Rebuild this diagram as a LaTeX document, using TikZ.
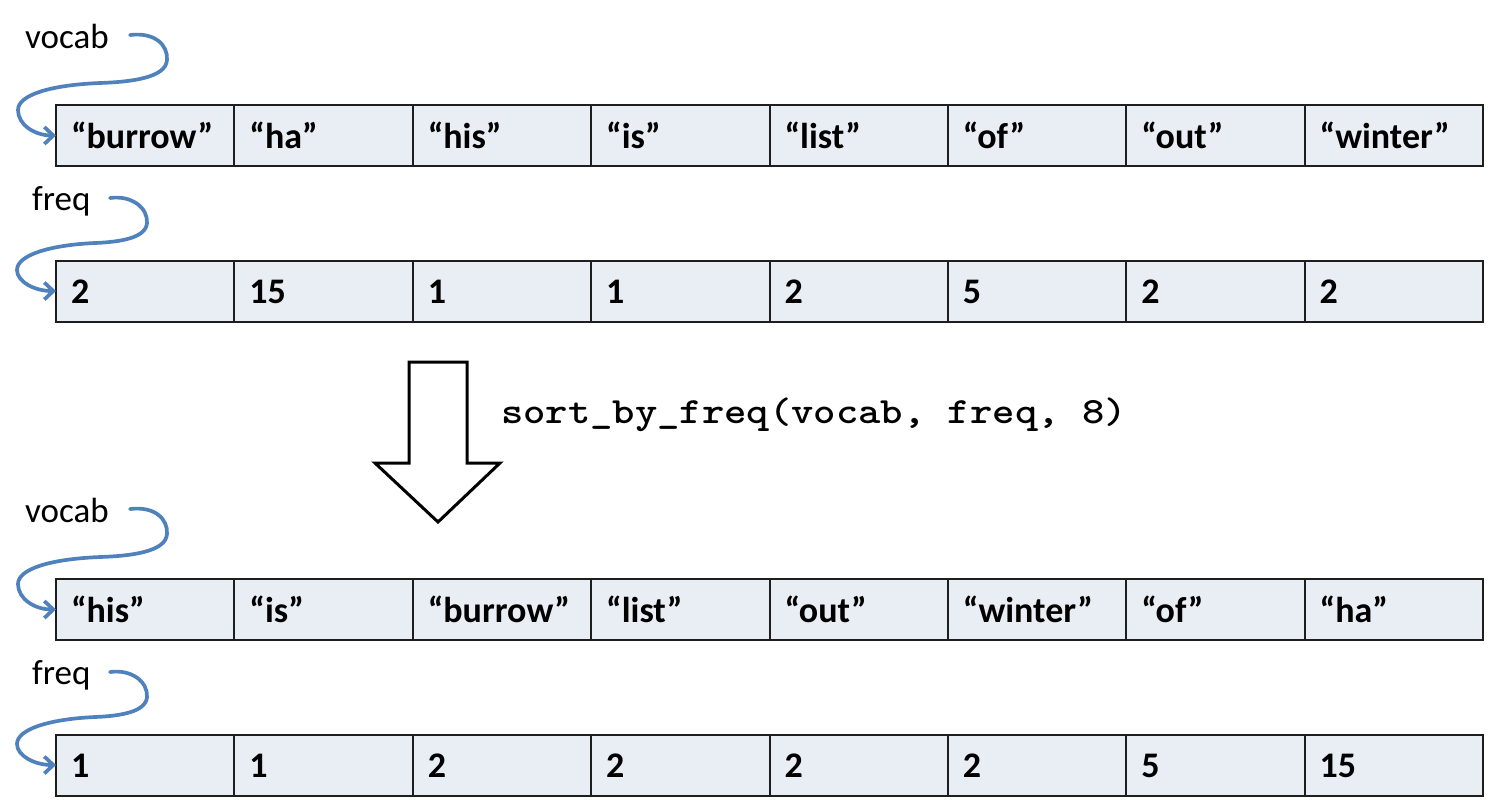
\documentclass[tikz,border=0pt]{standalone}
\usepackage{fontspec}
\setmainfont{Carlito}
\usetikzlibrary{arrows.meta}
\definecolor{cellfill}{RGB}{233,237,244}
\definecolor{celldraw}{RGB}{30,30,30}
\definecolor{arrowblue}{RGB}{79,129,189}
\tikzset{
  cell/.style={draw=celldraw, line width=2pt, fill=cellfill, inner xsep=15pt, inner ysep=0pt,
    text width=148.375pt, align=left, text height=43pt, text depth=18pt,
    font=\fontsize{36}{40}\selectfont\bfseries, outer sep=0pt},
  varlabel/.style={anchor=base west, inner sep=0pt, font=\fontsize{35}{38}\selectfont},
  pointer/.style={draw=arrowblue, line width=3.7pt, line cap=round,
    -{Straight Barb[length=9pt,width=17pt,line width=3.7pt]}},
  bigarrow/.style={draw=black, line width=3pt, fill=white, line join=miter},
  codetext/.style={anchor=base west, inner sep=0pt, font=\ttfamily\bfseries\fontsize{37}{40}\selectfont},
}
\newcommand\vocabpointer[2]{%
  \draw[pointer] (#1) .. controls (155,32) and (168,45) .. (167,60)
     .. controls (166,78) and (130,82) .. (100,83)
     .. controls (50,85) and (18,95) .. (18,110)
     .. controls (18,125) and (35,135.5) .. (#2.west);}
\newcommand\freqpointer[2]{%
  \draw[pointer] (#1) .. controls (132,195) and (148,208) .. (147,223)
     .. controls (146,238) and (120,242) .. (95,243)
     .. controls (50,245) and (17,255) .. (17,270)
     .. controls (17,282) and (35,291) .. (#2.west);}
\begin{document}
\begin{tikzpicture}[x=1pt, y=-1pt]
\useasboundingbox (0,0) rectangle (1495,807);
% top arrays
\foreach \t [count=\i from 0] in {“burrow”,“ha”,“his”,“is”,“list”,“of”,“out”,“winter”}
  \node[cell] (ra\i) at ({56+178.375*(\i+0.5)},135.5) {\t};
\foreach \t [count=\i from 0] in {2,15,1,1,2,5,2,2}
  \node[cell] (rb\i) at ({56+178.375*(\i+0.5)},291) {\t};
% bottom arrays
\foreach \t [count=\i from 0] in {“his”,“is”,“burrow”,“list”,“out”,“winter”,“of”,“ha”}
  \node[cell] (rc\i) at ({56+178.375*(\i+0.5)},609.5) {\t};
\foreach \t [count=\i from 0] in {1,1,2,2,2,2,5,15}
  \node[cell] (rd\i) at ({56+178.375*(\i+0.5)},765) {\t};
% labels
\node[varlabel] (va) at (25,48) {vocab};
\node[varlabel] (fa) at (32,210) {freq};
\node[varlabel] (vb) at (25,522) {vocab};
\node[varlabel] (fb) at (32,684) {freq};
% pointers
\coordinate (vas) at (130,35);
\coordinate (fas) at (110,198);
\vocabpointer{vas}{ra0}
\freqpointer{fas}{rb0}
\begin{scope}[yshift=-474pt]
  \coordinate (vbs) at (130,35);
  \coordinate (fbs) at (110,198);
  \vocabpointer{vbs}{rc0}
  \freqpointer{fbs}{rd0}
\end{scope}
% big arrow
\draw[bigarrow] (409,362) -- (467,362) -- (467,463) -- (500,463) -- (438,522) -- (375,463) -- (409,463) -- cycle;
\node[codetext] (call) at (501,423) {\scalebox{1.15}[1]{sort\_by\_freq(vocab, freq, 8)}};
\end{tikzpicture}
\end{document}
